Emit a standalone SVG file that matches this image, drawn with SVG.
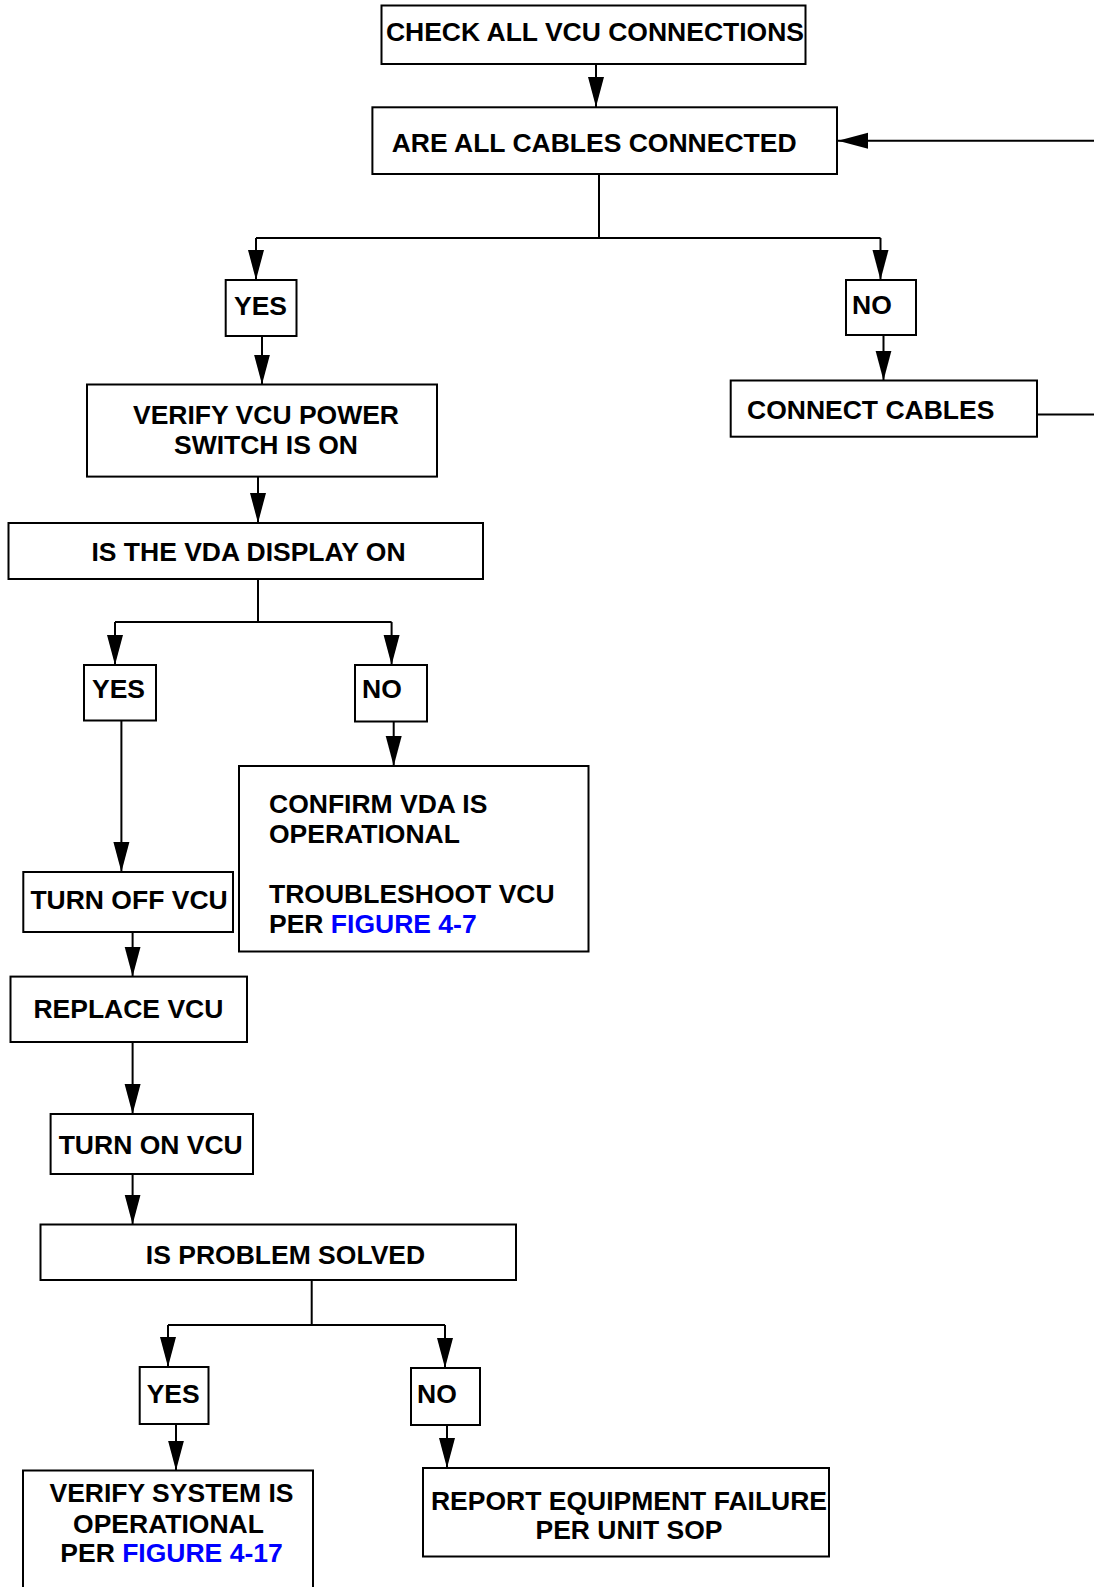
<svg xmlns="http://www.w3.org/2000/svg" width="1094" height="1587" viewBox="0 0 1094 1587">
  <style>
    .box { fill: #ffffff; stroke: #000000; stroke-width: 2; }
    .lbl { font-family: "Liberation Sans", Arial, sans-serif; font-weight: bold; font-size: 26.5px; fill: #000000; }
    .mid { text-anchor: middle; }
    .ref { fill: #0000ff; }
    .wire { fill: none; stroke: #000000; stroke-width: 2; }
    .arrow { fill: none; stroke: #000000; stroke-width: 2; marker-end: url(#head); }
  </style>
  <defs>
    <marker id="head" markerUnits="userSpaceOnUse" markerWidth="31" markerHeight="18" viewBox="0 0 31 18" refX="30" refY="9" orient="auto">
      <path d="M0,1 L30,9 L0,17 Z" fill="#000000"/>
    </marker>
  </defs>
  <rect width="1094" height="1587" fill="#ffffff"/>

  <!-- connectors -->
  <g id="connectors">
    <line class="arrow" x1="596" y1="64" x2="596" y2="107"/>
    <path class="arrow" d="M1037,414.5 H1110 V140.7 H838"/>
    <path class="wire" d="M599,174 V238 M256,238 H880.5"/>
    <line class="arrow" x1="256" y1="238" x2="256" y2="280"/>
    <line class="arrow" x1="880.5" y1="238" x2="880.5" y2="280"/>
    <line class="arrow" x1="262" y1="336" x2="262" y2="384.5"/>
    <line class="arrow" x1="883.5" y1="335" x2="883.5" y2="380.5"/>
    <line class="arrow" x1="258" y1="476.6" x2="258" y2="523"/>
    <path class="wire" d="M258,579 V622 M115,622 H391.6"/>
    <line class="arrow" x1="115" y1="622" x2="115" y2="665"/>
    <line class="arrow" x1="391.6" y1="622" x2="391.6" y2="665"/>
    <line class="arrow" x1="121.4" y1="720.5" x2="121.4" y2="872"/>
    <line class="arrow" x1="393.7" y1="721.5" x2="393.7" y2="766"/>
    <line class="arrow" x1="132.6" y1="932" x2="132.6" y2="976.6"/>
    <line class="arrow" x1="132.6" y1="1042" x2="132.6" y2="1114"/>
    <line class="arrow" x1="132.6" y1="1174" x2="132.6" y2="1224.5"/>
    <path class="wire" d="M311.7,1280 V1325 M168,1325 H445"/>
    <line class="arrow" x1="168" y1="1325" x2="168" y2="1367"/>
    <line class="arrow" x1="445" y1="1325" x2="445" y2="1368"/>
    <line class="arrow" x1="176" y1="1424" x2="176" y2="1470.5"/>
    <line class="arrow" x1="447" y1="1425" x2="447" y2="1468"/>
  </g>

  <g id="check-connections">
    <rect class="box" x="381.5" y="5.5" width="424" height="58.5"/>
    <text class="lbl mid" x="595" y="41">CHECK ALL VCU CONNECTIONS</text>
  </g>
  <g id="cables-connected">
    <rect class="box" x="372.4" y="107.3" width="464.6" height="66.7"/>
    <text class="lbl" x="391.7" y="152.3">ARE ALL CABLES CONNECTED</text>
  </g>
  <g id="cables-yes">
    <rect class="box" x="225.7" y="280" width="70.8" height="56"/>
    <text class="lbl" x="234" y="314.7">YES</text>
  </g>
  <g id="cables-no">
    <rect class="box" x="846" y="280" width="70" height="55"/>
    <text class="lbl" x="852" y="313.7">NO</text>
  </g>
  <g id="verify-power">
    <rect class="box" x="87" y="384.5" width="350" height="92.1"/>
    <text class="lbl mid" x="266" y="424">VERIFY VCU POWER</text>
    <text class="lbl mid" x="266" y="454">SWITCH IS ON</text>
  </g>
  <g id="connect-cables">
    <rect class="box" x="730.7" y="380.5" width="306.3" height="56.2"/>
    <text class="lbl" x="747" y="419">CONNECT CABLES</text>
  </g>
  <g id="vda-display">
    <rect class="box" x="8.5" y="523" width="474.5" height="56"/>
    <text class="lbl mid" x="248.5" y="561">IS THE VDA DISPLAY ON</text>
  </g>
  <g id="vda-yes">
    <rect class="box" x="84" y="665" width="72" height="55.5"/>
    <text class="lbl" x="92" y="698">YES</text>
  </g>
  <g id="vda-no">
    <rect class="box" x="355" y="665" width="72" height="56.5"/>
    <text class="lbl" x="362" y="698">NO</text>
  </g>
  <g id="confirm-vda">
    <rect class="box" x="239" y="766" width="349.5" height="185.5"/>
    <text class="lbl" x="269" y="813.3">CONFIRM VDA IS</text>
    <text class="lbl" x="269" y="843.3">OPERATIONAL</text>
    <text class="lbl" x="269" y="902.7">TROUBLESHOOT VCU</text>
    <text class="lbl" x="269" y="932.7">PER <tspan class="ref">FIGURE 4-7</tspan></text>
  </g>
  <g id="turn-off">
    <rect class="box" x="23.3" y="872" width="209.7" height="60"/>
    <text class="lbl" x="30.4" y="909">TURN OFF VCU</text>
  </g>
  <g id="replace">
    <rect class="box" x="10.5" y="976.6" width="236.5" height="65.4"/>
    <text class="lbl" x="33.4" y="1018">REPLACE VCU</text>
  </g>
  <g id="turn-on">
    <rect class="box" x="50.6" y="1114" width="202.4" height="60"/>
    <text class="lbl" x="58.7" y="1153.5">TURN ON VCU</text>
  </g>
  <g id="problem-solved">
    <rect class="box" x="40.5" y="1224.5" width="475.5" height="55.5"/>
    <text class="lbl mid" x="285.5" y="1264">IS PROBLEM SOLVED</text>
  </g>
  <g id="solved-yes">
    <rect class="box" x="139.7" y="1367" width="68.8" height="57"/>
    <text class="lbl" x="146.7" y="1402.6">YES</text>
  </g>
  <g id="solved-no">
    <rect class="box" x="411" y="1368" width="69" height="57"/>
    <text class="lbl" x="417" y="1402.6">NO</text>
  </g>
  <g id="verify-system">
    <rect class="box" x="23" y="1470.5" width="290" height="140"/>
    <text class="lbl mid" x="171.5" y="1502.3">VERIFY SYSTEM IS</text>
    <text class="lbl mid" x="168.5" y="1533">OPERATIONAL</text>
    <text class="lbl mid" x="171.5" y="1561.7">PER <tspan class="ref">FIGURE 4-17</tspan></text>
  </g>
  <g id="report-failure">
    <rect class="box" x="423" y="1468" width="406" height="88.5"/>
    <text class="lbl mid" x="629" y="1510">REPORT EQUIPMENT FAILURE</text>
    <text class="lbl mid" x="629" y="1539">PER UNIT SOP</text>
  </g>
</svg>
